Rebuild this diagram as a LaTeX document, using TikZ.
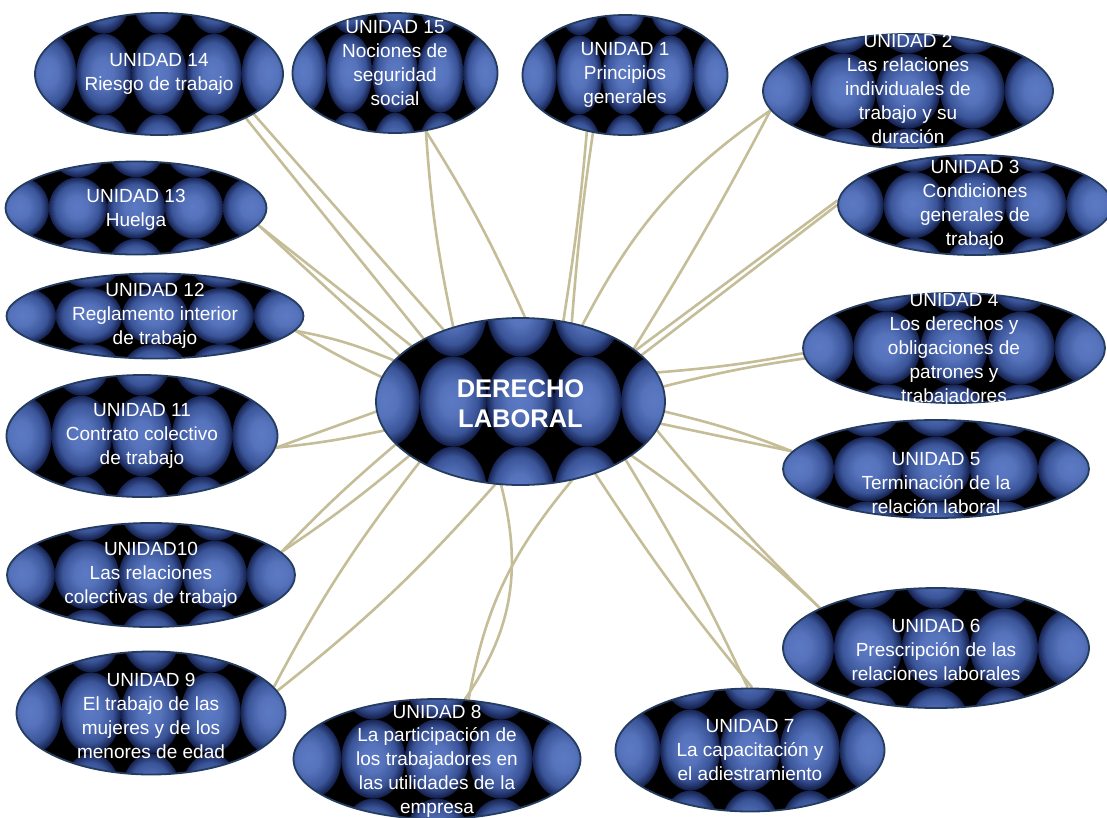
\documentclass[tikz,border=0pt]{standalone}
\usepackage{fontspec}
\setmainfont{Liberation Sans}
\usepackage{tikz}
\usetikzlibrary{shapes.geometric,backgrounds}

\definecolor{azulclaro}{RGB}{92,122,196}
\definecolor{azulmedio}{RGB}{58,84,152}
\definecolor{azuloscuro}{RGB}{20,32,76}
\definecolor{bordeazul}{RGB}{36,60,96}
\definecolor{ramacolor}{RGB}{196,189,151}

\pgfdeclareradialshading{esfera}{\pgfpoint{-1bp}{1bp}}{color(0bp)=(azulclaro); color(9bp)=(azulclaro!80!azulmedio); color(19bp)=(azulmedio); color(25bp)=(azuloscuro); color(50bp)=(azuloscuro)}

\tikzset{
  bolas/.style={ellipse, draw=bordeazul, line width=1.8pt, inner sep=0pt,
    path picture={
      \fill[black] (path picture bounding box.south west) rectangle (path picture bounding box.north east);
      \begin{scope}[shift={(path picture bounding box.center)}]
        \foreach \i in {-3,...,3}
          \foreach \j in {-1,0,1}
            \shade[shading=esfera] (\i*\anchobola pt, \j*\altobola pt) ellipse [x radius=0.5*\anchobola pt, y radius=0.5*\altobola pt];
      \end{scope}
    }},
  texto/.style={text=white, align=center, inner sep=0pt, font=\fontsize{19}{23.8}\selectfont},
  titulo/.style={texto, font=\fontsize{25.5}{30}\selectfont\bfseries},
  rama/.style={draw=ramacolor, line width=2.6pt, shorten >=-8pt}
}

% #1 desplazamiento del texto, #2 nombre, #3 x, #4 y, #5 ancho, #6 alto, #7 texto
\newcommand{\bolanodo}[7][0]{%
  \pgfmathsetmacro{\anchobola}{#5/4.5}%
  \pgfmathsetmacro{\altobola}{#6*0.66}%
  \node[bolas, minimum width=#5pt, minimum height=#6pt] (#2) at (#3,#4) {};
  \node[texto] (#2-t) at ([yshift=#1pt]#2.center) {#7};
}

\begin{document}
\begin{tikzpicture}[x=1pt, y=-1pt]
	\useasboundingbox (0,0) rectangle (1107,817);
	% centro
	\pgfmathsetmacro{\anchobola}{289/4.3}
	\pgfmathsetmacro{\altobola}{167*0.54}
	\node[bolas, minimum width=289pt, minimum height=167pt] (centro) at (520.5,401.5) {};
	\node[titulo] (centro-t) at ([yshift=-2pt]centro.center) {DERECHO\\LABORAL};
	% unidades, lado derecho
	\bolanodo{u1}{625}{75}{205}{120}{UNIDAD 1\\Principios\\generales}
	\bolanodo[2]{u2}{908}{91}{290}{114}{UNIDAD 2\\Las relaciones\\individuales de\\trabajo y su\\duración}
	\bolanodo{u3}{975}{205}{274}{100}{UNIDAD 3\\Condiciones\\generales de\\trabajo}
	\bolanodo[-2]{u4}{954}{348}{302}{110}{UNIDAD 4\\Los derechos y\\obligaciones de\\patrones y\\trabajadores}
	\bolanodo[-14]{u5}{936}{469}{306}{98}{UNIDAD 5\\Terminación de la\\relación laboral}
	\bolanodo[-2]{u6}{936}{648}{306}{120}{UNIDAD 6\\Prescripción de las\\relaciones laborales}
	\bolanodo{u7}{750}{750}{269}{123}{UNIDAD 7\\La capacitación y\\el adiestramiento}
	% unidades, lado izquierdo
	\bolanodo[-2]{u8}{437}{759}{287}{120}{UNIDAD 8\\La participación de\\los trabajadores en\\las utilidades de la\\empresa}
	\bolanodo[-3]{u9}{151}{713}{269}{123}{UNIDAD 9\\El trabajo de las\\mujeres y de los\\menores de edad}
	\bolanodo{u10}{151}{575}{288}{104}{UNIDAD10\\Las relaciones\\colectivas de trabajo}
	\bolanodo{u11}{142}{436}{271}{122}{UNIDAD 11\\Contrato colectivo\\de trabajo}
	\bolanodo{u12}{155}{316}{297}{85}{UNIDAD 12\\Reglamento interior\\de trabajo}
	\bolanodo[-2]{u13}{136}{208}{261}{93}{UNIDAD 13\\Huelga}
	\bolanodo{u14}{159}{74}{248}{122}{UNIDAD 14\\Riesgo de trabajo}
	\bolanodo[10]{u15}{395}{73}{205}{120}{UNIDAD 15\\Nociones de\\seguridad\\social}
	% ramas
	\begin{pgfonlayer}{background}
		\draw[rama] (u1.-124) to[bend left=2] (centro.62);
		\draw[rama] (u1.-119) to[bend right=2] (centro.57);
		\draw[rama] (u2.188) to[bend right=14] (centro.51);
		\draw[rama] (u2.188) to[bend left=2] (centro.25);
		\draw[rama] (u3.180) -- (centro.21);
		\draw[rama] (u3.178) -- (centro.24);
		\draw[rama] (u4.182) to[bend left=3] (centro.12);
		\draw[rama] (u4.184) to[bend right=3] (centro.6);
		\draw[rama] (u5.173) -- (centro.-9);
		\draw[rama] (u5.173) to[bend right=4] (centro.-4);
		\draw[rama] (u6.161) to[bend left=3] (centro.-12);
		\draw[rama] (u6.161) to[bend right=4] (centro.-26);
		\draw[rama] (u7.92) to[bend right=3] (centro.-29);
		\draw[rama] (u7.88) to[bend left=3] (centro.-44);
		\draw[rama] (u8.65) to[bend right=25] (centro.257);
		\draw[rama] (u8.62) to[bend left=15] (centro.-57);
		\draw[rama] (u9.12) to[bend left=5] (centro.211);
		\draw[rama] (u9.10) to[bend right=5] (centro.253);
		\draw[rama] (u10.10) to[bend left=3] (centro.199);
		\draw[rama] (u10.10) to[bend right=3] (centro.206);
		\draw[rama] (u11.-5) -- (centro.184);
		\draw[rama] (u11.-5) to[bend right=3] (centro.192);
		\draw[rama] (u12.-6) to[bend left=6] (centro.162);
		\draw[rama] (u12.-6) to[bend right=3] (centro.170);
		\draw[rama] (u13.-8) -- (centro.159);
		\draw[rama] (u13.-8) -- (centro.153);
		\draw[rama] (u14.-27) -- (centro.147);
		\draw[rama] (u14.-23) -- (centro.137);
		\draw[rama] (u15.-62) to[bend right=4] (centro.132);
		\draw[rama] (u15.-62) to[bend left=4] (centro.87);
	\end{pgfonlayer}
\end{tikzpicture}
\end{document}
